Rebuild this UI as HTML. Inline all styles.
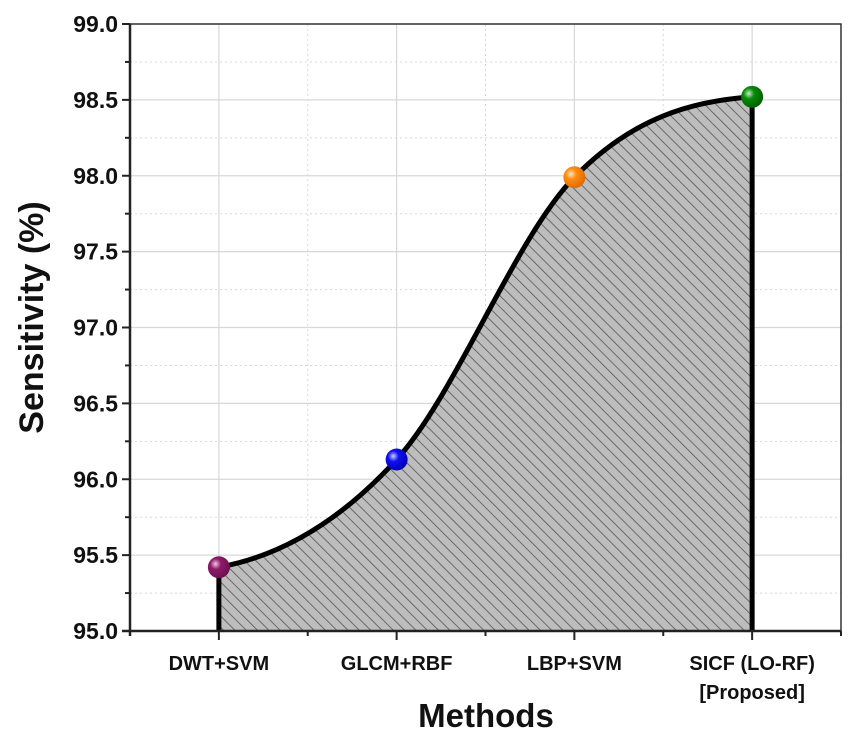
<!DOCTYPE html>
<html><head><meta charset="utf-8"><style>
body{margin:0;background:#fff;}
svg{display:block;font-family:"Liberation Sans",Arial,sans-serif;}
</style></head><body>
<svg id="chart" width="851" height="737">
<defs>
<pattern id="hatch" patternUnits="userSpaceOnUse" width="8" height="8" patternTransform="rotate(-45)">
<rect width="8" height="8" fill="#bdbdbd"/>
<line x1="0" y1="0" x2="0" y2="8" stroke="#555" stroke-width="1.6"/>
</pattern>
<radialGradient id="g0" cx="35%" cy="35%" r="70%"><stop offset="0" stop-color="#f0c8e0"/><stop offset="0.35" stop-color="#8e1a6a"/><stop offset="1" stop-color="#6a0f4e"/></radialGradient>
<radialGradient id="g1" cx="35%" cy="35%" r="70%"><stop offset="0" stop-color="#c8d0ff"/><stop offset="0.35" stop-color="#1010f0"/><stop offset="1" stop-color="#0000b0"/></radialGradient>
<radialGradient id="g2" cx="35%" cy="35%" r="70%"><stop offset="0" stop-color="#ffe6c0"/><stop offset="0.35" stop-color="#ff8c10"/><stop offset="1" stop-color="#e06800"/></radialGradient>
<radialGradient id="g3" cx="35%" cy="35%" r="70%"><stop offset="0" stop-color="#c8f0c8"/><stop offset="0.35" stop-color="#0a8a0a"/><stop offset="1" stop-color="#006000"/></radialGradient>
</defs>
<g id="grid"></g>
<g id="area"></g>
<g id="axes"></g>
</svg>
<script>
const categories=["DWT+SVM","GLCM+RBF","LBP+SVM","SICF (LO-RF)"];
const categories2=["","","","[Proposed]"];
const values=[95.42,96.13,97.99,98.52];
const yTicks=[95.0,95.5,96.0,96.5,97.0,97.5,98.0,98.5,99.0];
const L=130,R=841,T=24,B=631,yMin=95,yMax=99;
const NS="http://www.w3.org/2000/svg";
function xs(i){return L+(i+0.5)*(R-L)/categories.length;}
function ys(v){return B-(v-yMin)/(yMax-yMin)*(B-T);}
function mk(tag,attrs,parent,text){const e=document.createElementNS(NS,tag);for(const k in attrs)e.setAttribute(k,attrs[k]);if(text!==undefined)e.textContent=text;parent.appendChild(e);return e;}
const grid=document.getElementById('grid'),area=document.getElementById('area'),axes=document.getElementById('axes');
yTicks.forEach((t,i)=>{const l=mk('line',{x1:L,x2:R,y1:ys(t),y2:ys(t),stroke:'#d8d8d8','stroke-width':1.2},grid);


if(i<yTicks.length-1){const m=mk('line',{x1:L,x2:R,y1:ys(t+0.25),y2:ys(t+0.25),stroke:'#d8d8d8','stroke-width':1,'stroke-dasharray':'2,3'},grid);

}});
categories.forEach((c,i)=>{const l=mk('line',{x1:xs(i),x2:xs(i),y1:T,y2:B,stroke:'#d8d8d8','stroke-width':1.2},grid);


if(i<categories.length-1){const m=mk('line',{x1:xs(i+0.5),x2:xs(i+0.5),y1:T,y2:B,stroke:'#d8d8d8','stroke-width':1,'stroke-dasharray':'2,3'},grid);

}});
const px=values.map((v,i)=>xs(i)),py=values.map(v=>ys(v));
const n=values.length,d=[],m=[];
for(let i=0;i<n-1;i++)d.push((py[i+1]-py[i])/(px[i+1]-px[i]));
m[0]=d[0]*0.3;m[n-1]=d[n-2]*0.15;
for(let i=1;i<n-1;i++){m[i]=(d[i-1]*d[i]<=0)?0:(d[i-1]+d[i])/2;}
let path=`M${px[0]},${py[0]}`;
for(let i=0;i<n-1;i++){const h=px[i+1]-px[i];path+=` C${px[i]+h/3},${py[i]+m[i]*h/3} ${px[i+1]-h/3},${py[i+1]-m[i+1]*h/3} ${px[i+1]},${py[i+1]}`;}
const fill=mk('path',{d:path+` L${px[n-1]},${B} L${px[0]},${B} Z`,fill:'url(#hatch)'},area);


const line=mk('path',{d:path,fill:'none',stroke:'#000','stroke-width':5},area);


[0,n-1].forEach(i=>{const e=mk('line',{x1:px[i],x2:px[i],y1:py[i],y2:B,stroke:'#000','stroke-width':5},area);

});
values.forEach((v,i)=>{const c=mk('circle',{cx:px[i],cy:py[i],r:11,fill:`url(#g${i})`},area);

});
const fr=mk('rect',{x:L,y:T,width:R-L,height:B-T,fill:'none',stroke:'#333','stroke-width':1.5},axes);


mk('line',{x1:L,x2:L,y1:T,y2:B+5,stroke:'#222','stroke-width':2.5},axes);
mk('line',{x1:L-8,x2:R,y1:B,y2:B,stroke:'#222','stroke-width':2.5},axes);
yTicks.forEach((t,i)=>{mk('line',{x1:L-8,x2:L,y1:ys(t),y2:ys(t),stroke:'#222','stroke-width':2},axes);
if(i<yTicks.length-1)mk('line',{x1:L-5,x2:L,y1:ys(t+0.25),y2:ys(t+0.25),stroke:'#222','stroke-width':2},axes);
const tx=mk('text',{x:L-12,y:ys(t)+8,'text-anchor':'end','font-size':23,'font-weight':'bold',fill:'#111'},axes,t.toFixed(1));

});
categories.forEach((c,i)=>{mk('line',{x1:xs(i),x2:xs(i),y1:B,y2:B+9,stroke:'#222','stroke-width':2},axes);
mk('line',{x1:xs(i+0.5),x2:xs(i+0.5),y1:B,y2:B+5,stroke:'#222','stroke-width':2},axes);
const tx=mk('text',{x:xs(i),y:670,'text-anchor':'middle','font-size':20,'font-weight':'bold',fill:'#111'},axes,c);


if(categories2[i]){const t2=mk('text',{x:xs(i),y:699,'text-anchor':'middle','font-size':20,'font-weight':'bold',fill:'#111'},axes,categories2[i]);

}});
const xt=mk('text',{x:486,y:727,'text-anchor':'middle','font-size':33,'font-weight':'bold',fill:'#111'},axes,'Methods');


const yt=mk('text',{x:0,y:0,'text-anchor':'middle','font-size':34,'font-weight':'bold',fill:'#111',transform:`translate(43,${(T+B)/2-10}) rotate(-90)`},axes,'Sensitivity (%)');


</script>
</body></html>
